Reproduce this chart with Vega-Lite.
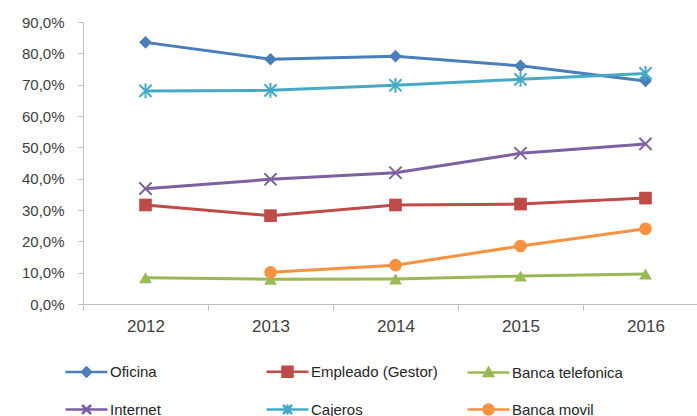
{
  "$schema": "https://vega.github.io/schema/vega-lite/v6.json",
  "width": 625,
  "height": 282,
  "autosize": {"type": "none"},
  "padding": {"left": 83, "top": 22, "right": 0, "bottom": 112},
  "background": "white",
  "config": {
    "view": {"stroke": null},
    "font": "Liberation Sans",
    "axis": {
      "domainColor": "#bfbfbf",
      "tickColor": "#bfbfbf",
      "labelColor": "#404040",
      "labelFont": "Liberation Sans",
      "grid": false,
      "title": null
    }
  },
  "data": {
    "values": [
      {"serie": "Oficina", "anio": "2012", "valor": 83.5},
      {"serie": "Oficina", "anio": "2013", "valor": 78.1},
      {"serie": "Oficina", "anio": "2014", "valor": 79.1},
      {"serie": "Oficina", "anio": "2015", "valor": 76.0},
      {"serie": "Oficina", "anio": "2016", "valor": 71.2},
      {"serie": "Empleado (Gestor)", "anio": "2012", "valor": 31.6},
      {"serie": "Empleado (Gestor)", "anio": "2013", "valor": 28.2},
      {"serie": "Empleado (Gestor)", "anio": "2014", "valor": 31.6},
      {"serie": "Empleado (Gestor)", "anio": "2015", "valor": 31.9},
      {"serie": "Empleado (Gestor)", "anio": "2016", "valor": 33.8},
      {"serie": "Banca telefonica", "anio": "2012", "valor": 8.4},
      {"serie": "Banca telefonica", "anio": "2013", "valor": 7.9},
      {"serie": "Banca telefonica", "anio": "2014", "valor": 8.0},
      {"serie": "Banca telefonica", "anio": "2015", "valor": 8.9},
      {"serie": "Banca telefonica", "anio": "2016", "valor": 9.6},
      {"serie": "Internet", "anio": "2012", "valor": 36.8},
      {"serie": "Internet", "anio": "2013", "valor": 39.8},
      {"serie": "Internet", "anio": "2014", "valor": 41.9},
      {"serie": "Internet", "anio": "2015", "valor": 48.1},
      {"serie": "Internet", "anio": "2016", "valor": 51.1},
      {"serie": "Cajeros", "anio": "2012", "valor": 68.0},
      {"serie": "Cajeros", "anio": "2013", "valor": 68.2},
      {"serie": "Cajeros", "anio": "2014", "valor": 69.8},
      {"serie": "Cajeros", "anio": "2015", "valor": 71.7},
      {"serie": "Cajeros", "anio": "2016", "valor": 73.6},
      {"serie": "Banca movil", "anio": "2013", "valor": 10.1},
      {"serie": "Banca movil", "anio": "2014", "valor": 12.4},
      {"serie": "Banca movil", "anio": "2015", "valor": 18.5},
      {"serie": "Banca movil", "anio": "2016", "valor": 24.0}
    ]
  },
  "encoding": {
    "x": {
      "field": "anio",
      "type": "ordinal",
      "scale": {"type": "band", "paddingInner": 0, "paddingOuter": 0},
      "axis": {
        "labelAngle": 0,
        "tickBand": "extent",
        "tickSize": 6,
        "labelPadding": 8,
        "labelFontSize": 17
      }
    },
    "y": {
      "field": "valor",
      "type": "quantitative",
      "scale": {"domain": [0, 90], "nice": false},
      "axis": {
        "values": [0, 10, 20, 30, 40, 50, 60, 70, 80, 90],
        "labelExpr": "replace(format(datum.value, '.1f'), '.', ',') + '%'",
        "tickSize": 5,
        "labelPadding": 14,
        "labelFontSize": 15
      }
    },
    "color": {
      "field": "serie",
      "type": "nominal",
      "legend": null,
      "scale": {
        "domain": ["Oficina", "Empleado (Gestor)", "Banca telefonica", "Internet", "Cajeros", "Banca movil"],
        "range": ["#4a7ebb", "#be4b48", "#98b954", "#7d60a0", "#46aac5", "#f69240"]
      }
    }
  },
  "layer": [
    {
      "mark": {"type": "line", "strokeWidth": 3},
      "encoding": {}
    },
    {
      "transform": [{"filter": "datum.serie !== 'Internet' && datum.serie !== 'Cajeros'"}],
      "mark": {"type": "point", "filled": true, "opacity": 1, "size": 160},
      "encoding": {
        "shape": {
          "field": "serie",
          "type": "nominal",
          "legend": null,
          "scale": {
            "domain": ["Oficina", "Empleado (Gestor)", "Banca telefonica", "Banca movil"],
            "range": ["diamond", "square", "triangle-up", "circle"]
          }
        }
      }
    },
    {
      "transform": [{"filter": "datum.serie === 'Internet' || datum.serie === 'Cajeros'"}],
      "mark": {"type": "point", "filled": false, "opacity": 1, "size": 150, "strokeWidth": 2},
      "encoding": {
        "shape": {
          "field": "serie",
          "type": "nominal",
          "legend": null,
          "scale": {
            "domain": ["Internet", "Cajeros"],
            "range": [
              "M-1,-1L1,1M-1,1L1,-1",
              "M-1,-1L1,1M-1,1L1,-1M0,-1.2L0,1.2"
            ]
          }
        }
      }
    },
    {
      "mark": {"type": "point", "filled": true, "opacity": 0, "size": 100},
      "encoding": {
        "shape": {
          "field": "serie",
          "type": "nominal",
          "scale": {
            "domain": ["Oficina", "Internet", "Empleado (Gestor)", "Cajeros", "Banca telefonica", "Banca movil"],
            "range": [
              "M-4.2,0L4.2,0M-0.9,0L0,-0.9L0.9,0L0,0.9Z",
              "M-4.2,0L4.2,0M-0.9,-0.9L0.9,0.9M-0.9,0.9L0.9,-0.9",
              "M-4.2,0L4.2,0M-1,-1L1,-1L1,1L-1,1Z",
              "M-4.2,0L4.2,0M-0.9,-0.9L0.9,0.9M-0.9,0.9L0.9,-0.9M0,-1L0,1",
              "M-4.2,0L4.2,0M0,-0.9L0.9,0.7L-0.9,0.7Z",
              "M-4.2,0L4.2,0M1,0A1,1,0,1,1,-1,0A1,1,0,1,1,1,0Z"
            ]
          },
          "legend": {
            "title": null,
            "orient": "none",
            "legendX": -4,
            "legendY": 342,
            "columns": 3,
            "gridAlign": "all",
            "columnPadding": 24,
            "rowPadding": 17,
            "labelFontSize": 15,
            "labelColor": "#262626",
            "labelFont": "Liberation Sans",
            "labelOffset": 16,
            "symbolSize": 100,
            "symbolStrokeWidth": 2.5,
            "symbolOpacity": 1,
            "encoding": {
              "symbols": {
                "fill": {"value": {"signal": "scale('color', datum.value)"}},
                "stroke": {"value": {"signal": "scale('color', datum.value)"}}
              }
            }
          }
        }
      }
    }
  ],
  "resolve": {"scale": {"shape": "independent"}, "legend": {"shape": "independent"}}
}
